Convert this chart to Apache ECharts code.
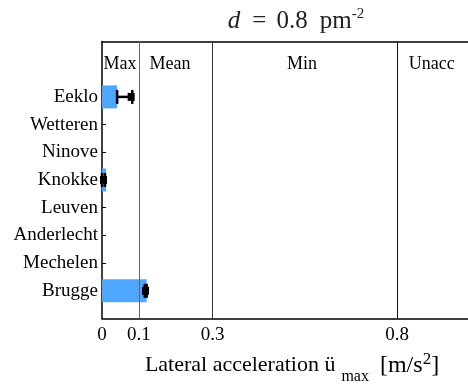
<!DOCTYPE html>
<html><head><meta charset="utf-8">
<script src="https://cdn.jsdelivr.net/npm/echarts@6/dist/echarts.min.js"></script>
<style>html,body{margin:0;padding:0;background:#fff;overflow:hidden}#c{width:468px;height:385px}</style>
</head><body><div id="c"></div>
<script>
// Data
const categories = ['Eeklo','Wetteren','Ninove','Knokke','Leuven','Anderlecht','Mechelen','Brugge'];
const barValues  = [0.041, 0, 0, 0.011, 0, 0, 0, 0.121];
const errLow     = [0.041, null, null, 0.000, null, null, null, 0.116];
const errHigh    = [0.082, null, null, 0.008, null, null, null, 0.121];
const errMark    = [0.079, null, null, 0.004, null, null, null, 0.118];
const thresholds = [0.1, 0.3, 0.8];
const xTickValues = [0, 0.1, 0.3, 0.8];
const xMax = 1.03;   // frame continues past the right edge of the window
const zoneNames   = ['Max', 'Mean', 'Min', 'Unacc'];
const zoneCenters = [0.049, 0.184, 0.542, 0.894];

const FONT = 'Liberation Serif';
// category axis: blank slots below/above the bars (bottom to top)
const yData = [' '].concat(categories.slice().reverse(), ['  ', '   ']);

const barData = categories.map((c, i) => [barValues[i], c]);
const errData = [];
categories.forEach((c, i) => { if (errLow[i] !== null) errData.push([errLow[i], errHigh[i], errMark[i], c]); });
const zoneData = zoneNames.map((n, i) => [zoneCenters[i], yData[9], n]);
const lineColors = ['#666', '#333', '#111'];

const chart = echarts.init(document.getElementById('c'));
chart.setOption({
  animation: false,
  textStyle: { fontFamily: FONT },
  title: {
    text: '{i|d}{e|=}{t|0.8}{p|pm}{s|-2}',
    left: 291, top: 2, textAlign: 'center',
    textStyle: {
      fontFamily: FONT, fontSize: 25, fontWeight: 'normal', color: '#222',
      rich: {
        i: { fontFamily: FONT, fontSize: 25, fontStyle: 'italic', color: '#222' },
        e: { fontFamily: FONT, fontSize: 25, color: '#222', padding: [0, 10, 0, 12] },
        t: { fontFamily: FONT, fontSize: 25, color: '#222' },
        p: { fontFamily: FONT, fontSize: 25, color: '#222', padding: [0, 0, 0, 12] },
        s: { fontFamily: FONT, fontSize: 15, color: '#222', padding: [0, 0, 13, 0] }
      }
    }
  },
  grid: { left: 102, top: 41.5, width: 380, height: 277, show: false, outerBoundsMode: 'none', containLabel: false },
  xAxis: [{
    type: 'value', min: 0, max: xMax,
    axisLine: { show: true, lineStyle: { color: '#000', width: 1.5 } },
    axisTick: { show: false },
    splitLine: { show: false },
    axisLabel: { customValues: xTickValues, formatter: v => String(v), fontFamily: FONT, fontSize: 19, color: '#000', margin: 7 },
    name: 'Lateral acceleration ü{sub|max}{sp|[m/s}{sup|2}{sp|]}',
    nameLocation: 'middle', nameGap: 28,
    nameTextStyle: {
      fontFamily: FONT, fontSize: 22, color: '#000',
      rich: {
        sub: { fontFamily: FONT, fontSize: 16, color: '#000', padding: [22, 11, 0, 6] },
        sp: { fontFamily: FONT, fontSize: 24, color: '#000' },
        sup: { fontFamily: FONT, fontSize: 17, color: '#000', padding: [0, 0, 12, 0] }
      }
    }
  }, {
    type: 'value', min: 0, max: xMax, position: 'top',
    axisLine: { show: true, onZero: false, lineStyle: { color: '#000', width: 1.5 } },
    axisTick: { show: false }, axisLabel: { show: false }, splitLine: { show: false }
  }],
  yAxis: [{
    type: 'category', data: yData, boundaryGap: false,
    axisLine: { show: true, lineStyle: { color: '#000', width: 1.5 } },
    axisTick: { show: true, inside: true, length: 4, lineStyle: { color: '#000' }, interval: (idx, v) => v.trim() !== '' },
    axisLabel: { interval: 0, fontFamily: FONT, fontSize: 19, color: '#000', margin: 4 },
    splitLine: { show: false }
  }],
  series: [{
    type: 'bar', data: barData, barWidth: 23,
    itemStyle: { color: '#4da6ff' },
    markLine: {
      silent: true, symbol: 'none', label: { show: false },
      data: thresholds.map((t, i) => ({ xAxis: t, lineStyle: { color: lineColors[i], width: 1, type: 'solid' } }))
    },
    z: 2
  }, {
    type: 'custom', data: errData, encode: { x: [0, 1, 2], y: 3 }, z: 5,
    renderItem: function (params, api) {
      const lo = api.coord([api.value(0), api.value(3)]);
      const hi = api.coord([api.value(1), api.value(3)]);
      const mk = api.coord([api.value(2), api.value(3)]);
      const y = lo[1], h = 14;
      const st = { stroke: '#000', lineWidth: 2.5 };
      return { type: 'group', children: [
        { type: 'line', shape: { x1: lo[0], y1: y, x2: hi[0], y2: y }, style: st },
        { type: 'line', shape: { x1: lo[0], y1: y - h / 2, x2: lo[0], y2: y + h / 2 }, style: st },
        { type: 'line', shape: { x1: hi[0], y1: y - h / 2, x2: hi[0], y2: y + h / 2 }, style: st },
        { type: 'rect', shape: { x: mk[0] - 3.5, y: y - 4, width: 7, height: 8 }, style: { fill: '#000' } }
      ] };
    }
  }, {
    type: 'custom', data: zoneData, encode: { x: 0, y: 1 }, z: 6,
    renderItem: function (params, api) {
      const p = api.coord([api.value(0), api.value(1)]);
      return { type: 'text', style: { x: p[0], y: p[1] - 5, text: zoneNames[params.dataIndex], fill: '#000', font: '18px "Liberation Serif"', align: 'center', verticalAlign: 'middle' } };
    }
  }]
});
</script></body></html>
